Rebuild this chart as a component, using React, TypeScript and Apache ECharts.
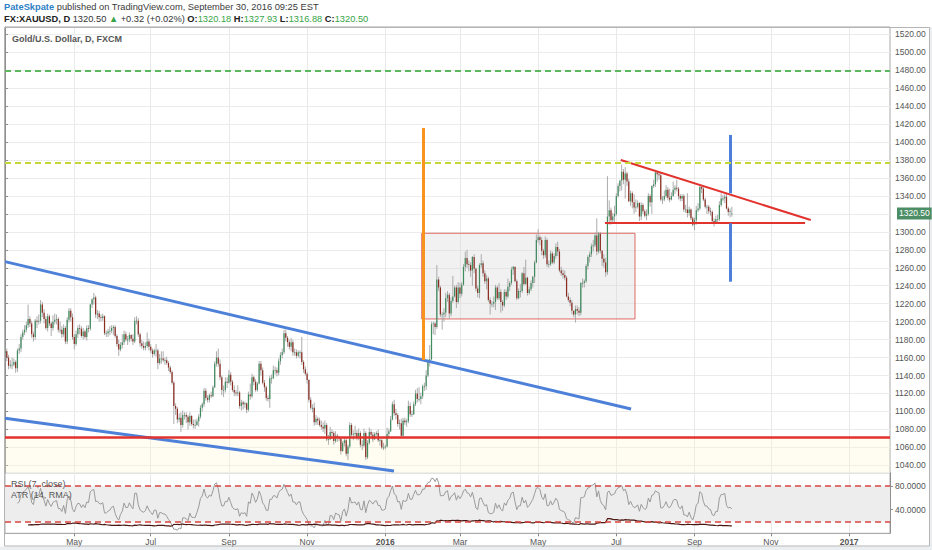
import React, { useEffect, useRef } from "react";
import * as echarts from "echarts";

// ---------- data ----------
const FIRST_DAY = [2015, 2, 9]; // 9 Mar 2015 (first visible bar)
const TOTAL_SLOTS = 499; // trading-day slots shown on the time axis (incl. empty future)

// [open, close, low, high] per trading day, 9 Mar 2015 - 30 Sep 2016 (one line = one week)
const CANDLES: number[][] = [
  [1165,1167,1162,1172],[1167,1160,1156,1170],[1160,1151,1147,1163],[1151,1152,1148,1157],[1152,1152,1147,1160],
  [1152,1155,1150,1159],[1155,1148,1143,1157],[1148,1168,1144,1170],[1168,1170,1164,1175],[1170,1183,1166,1186],
  [1183,1188,1180,1191],[1188,1191,1185,1196],[1191,1196,1188,1200],[1196,1203,1193,1219],[1203,1198,1194,1206],
  [1198,1186,1182,1201],[1186,1183,1178,1189],[1183,1201,1180,1203],[1201,1200,1193,1206],[1200,1201,1197,1208],
  [1201,1219,1198,1224],[1219,1210,1205,1222],[1210,1203,1198,1214],[1203,1193,1191,1206],[1193,1206,1189,1209],
  [1206,1198,1195,1208],[1198,1193,1184,1200],[1193,1200,1190,1207],[1200,1202,1197,1209],[1202,1203,1197,1208],
  [1203,1191,1188,1205],[1191,1191,1187,1200],[1191,1186,1182,1195],[1186,1193,1183,1197],[1193,1178,1175,1195],
  [1178,1202,1175,1205],[1202,1212,1199,1215],[1212,1205,1200,1215],[1205,1183,1180,1209],[1183,1175,1169,1186],
  [1175,1186,1173,1190],[1186,1193,1182,1196],[1193,1192,1186,1197],[1192,1184,1182,1195],[1184,1189,1180,1193],
  [1189,1183,1181,1191],[1183,1193,1179,1196],[1193,1192,1188,1196],[1192,1219,1190,1220],[1219,1225,1215,1226],
  [1225,1227,1219,1232],[1227,1208,1204,1229],[1208,1209,1203,1213],[1209,1205,1200,1212],[1205,1204,1200,1208],
  [1204,1206,1201,1209],[1206,1187,1185,1207],[1187,1187,1183,1190],[1187,1189,1183,1192],[1189,1190,1185,1195],
  [1190,1193,1187,1196],[1193,1194,1185,1196],[1194,1184,1182,1196],[1184,1175,1172,1186],[1175,1169,1162,1180],
  [1169,1174,1167,1177],[1174,1177,1170,1186],[1177,1186,1174,1190],[1186,1180,1178,1189],[1180,1180,1174,1184],
  [1180,1185,1177,1188],[1185,1181,1178,1186],[1181,1178,1174,1186],[1178,1201,1176,1205],[1201,1201,1197,1206],
  [1201,1186,1183,1204],[1186,1176,1172,1188],[1176,1173,1170,1180],[1173,1171,1168,1178],[1171,1173,1168,1177],
  [1173,1178,1171,1188],[1178,1172,1168,1181],[1172,1168,1165,1175],[1168,1164,1160,1170],[1164,1168,1162,1170],
  [1168,1168,1161,1175],[1168,1154,1147,1170],[1154,1159,1152,1164],[1159,1159,1153,1167],[1159,1157,1155,1167],
  [1157,1157,1152,1160],[1157,1154,1152,1161],[1154,1149,1145,1156],[1149,1144,1142,1151],[1144,1132,1130,1146],
  [1132,1106,1086,1134],[1106,1103,1096,1109],[1103,1091,1087,1105],[1091,1093,1088,1098],[1093,1085,1077,1099],
  [1085,1096,1082,1101],[1096,1096,1091,1099],[1096,1094,1087,1099],[1094,1088,1080,1096],[1088,1095,1084,1099],
  [1095,1086,1084,1096],[1086,1085,1081,1091],[1085,1085,1081,1091],[1085,1089,1084,1092],[1089,1094,1083,1097],
  [1094,1104,1092,1107],[1104,1108,1100,1110],[1108,1123,1105,1126],[1123,1115,1112,1126],[1115,1113,1110,1118],
  [1113,1118,1110,1120],[1118,1117,1115,1122],[1117,1127,1116,1129],[1127,1153,1126,1156],[1153,1160,1150,1167],
  [1160,1153,1150,1170],[1153,1138,1135,1158],[1138,1124,1118,1140],[1124,1124,1116,1129],[1124,1133,1121,1138],
  [1133,1132,1126,1138],[1132,1141,1131,1146],[1141,1133,1129,1144],[1133,1124,1122,1135],[1124,1121,1117,1129],
  [1121,1120,1117,1124],[1120,1121,1117,1129],[1121,1106,1103,1123],[1106,1110,1101,1113],[1110,1108,1102,1112],
  [1108,1109,1104,1111],[1109,1102,1098,1110],[1102,1119,1100,1122],[1119,1117,1113,1131],[1117,1138,1115,1142],
  [1138,1133,1129,1140],[1133,1124,1122,1136],[1124,1131,1122,1133],[1131,1153,1130,1156],[1153,1146,1140,1156],
  [1146,1132,1130,1149],[1132,1127,1122,1135],[1127,1115,1112,1129],[1115,1114,1111,1118],[1114,1137,1104,1140],
  [1137,1137,1131,1141],[1137,1146,1136,1151],[1146,1146,1141,1150],[1146,1143,1139,1149],[1143,1156,1140,1159],
  [1156,1163,1152,1166],[1163,1166,1159,1170],[1166,1187,1164,1191],[1187,1182,1178,1191],[1182,1177,1172,1184],
  [1177,1172,1169,1180],[1172,1177,1167,1182],[1177,1166,1162,1180],[1166,1166,1162,1170],[1166,1162,1159,1169],
  [1162,1166,1160,1168],[1166,1166,1159,1168],[1166,1155,1152,1183],[1155,1147,1143,1157],[1147,1142,1140,1150],
  [1142,1135,1131,1144],[1135,1113,1110,1136],[1113,1104,1102,1116],[1104,1104,1099,1108],[1104,1088,1084,1110],
  [1088,1092,1085,1096],[1092,1090,1085,1094],[1090,1085,1083,1093],[1085,1083,1080,1090],[1083,1081,1077,1088],
  [1081,1085,1075,1090],[1085,1069,1067,1087],[1069,1069,1063,1074],[1069,1077,1068,1083],[1077,1076,1071,1080],
  [1076,1067,1063,1078],[1067,1073,1065,1078],[1073,1071,1066,1075],[1071,1070,1067,1073],[1070,1056,1052,1071],
  [1056,1065,1055,1067],[1065,1068,1061,1071],[1068,1053,1050,1071],[1053,1061,1046,1063],[1061,1085,1059,1088],
  [1085,1074,1072,1087],[1074,1075,1068,1079],[1075,1076,1071,1084],[1076,1071,1068,1079],[1071,1076,1068,1081],
  [1076,1063,1060,1078],[1063,1062,1057,1068],[1062,1076,1060,1081],[1076,1049,1046,1078],[1049,1065,1047,1068],
  [1065,1077,1063,1082],[1077,1074,1071,1080],[1074,1069,1066,1077],[1069,1075,1068,1077],[1075,1076,1073,1078],
  [1076,1068,1066,1080],[1068,1068,1062,1072],[1068,1060,1058,1069],[1060,1060,1057,1065],[1060,1061,1058,1063],
  [1061,1075,1060,1082],[1075,1078,1071,1081],[1078,1091,1077,1095],[1091,1108,1090,1111],[1108,1098,1095,1113],
  [1098,1096,1091,1103],[1096,1086,1083,1098],[1086,1087,1080,1091],[1087,1073,1071,1092],[1073,1090,1072,1093],
  [1090,1088,1085,1093],[1088,1089,1083,1092],[1089,1106,1087,1112],[1106,1097,1094,1110],[1097,1097,1094,1101],
  [1097,1108,1096,1111],[1108,1120,1106,1124],[1120,1114,1110,1126],[1114,1114,1111,1127],[1114,1117,1108,1121],
  [1117,1128,1114,1130],[1128,1128,1123,1132],[1128,1140,1124,1146],[1140,1155,1138,1158],[1155,1158,1150,1174],
  [1158,1197,1157,1200],[1197,1198,1186,1200],[1198,1194,1185,1200],[1194,1247,1192,1263],[1247,1238,1234,1250],
  [1238,1208,1205,1240],[1208,1208,1191,1211],[1208,1210,1200,1215],[1210,1226,1205,1232],[1226,1230,1222,1234],
  [1230,1209,1203,1232],[1209,1223,1206,1227],[1223,1228,1221,1251],[1228,1238,1227,1240],[1238,1222,1215,1241],
  [1222,1238,1220,1244],[1238,1231,1226,1243],[1231,1241,1228,1244],[1241,1261,1240,1264],[1261,1271,1256,1278],
  [1271,1264,1260,1280],[1264,1263,1256,1268],[1263,1257,1250,1266],[1257,1272,1240,1273],[1272,1259,1254,1275],
  [1259,1237,1234,1260],[1237,1232,1227,1240],[1232,1263,1226,1265],[1263,1265,1260,1275],[1265,1254,1250,1268],
  [1254,1245,1242,1257],[1245,1248,1236,1252],[1248,1224,1222,1250],[1224,1220,1208,1227],[1220,1220,1216,1223],
  [1220,1222,1216,1228],[1222,1238,1213,1241],[1238,1226,1224,1240],[1226,1233,1224,1243],[1233,1222,1210,1236],
  [1222,1218,1212,1224],[1218,1233,1216,1236],[1233,1228,1224,1236],[1228,1239,1226,1248],[1239,1243,1234,1245],
  [1243,1258,1241,1261],[1258,1261,1252,1262],[1261,1245,1244,1261],[1245,1226,1224,1247],[1226,1234,1225,1237],
  [1234,1234,1227,1242],[1234,1254,1232,1255],[1254,1242,1240,1261],[1242,1249,1241,1269],[1249,1232,1229,1250],
  [1232,1236,1230,1239],[1236,1243,1234,1246],[1243,1250,1238,1251],[1250,1266,1243,1268],[1266,1291,1265,1297],
  [1291,1294,1288,1303],[1294,1291,1285,1296],[1291,1279,1274,1294],[1279,1274,1270,1281],[1274,1291,1271,1295],
  [1291,1264,1261,1293],[1264,1264,1260,1268],[1264,1276,1262,1279],[1276,1266,1264,1278],[1266,1273,1264,1276],
  [1273,1283,1270,1287],[1283,1278,1273,1289],[1278,1257,1255,1281],[1257,1254,1251,1261],[1254,1252,1248,1258],
  [1252,1249,1246,1257],[1249,1228,1227,1251],[1228,1224,1222,1232],[1224,1221,1217,1227],[1221,1212,1208,1224],
  [1212,1208,1205,1212],[1208,1214,1199,1218],[1214,1212,1208,1218],[1212,1210,1206,1216],[1210,1243,1207,1244],
  [1243,1243,1238,1248],[1243,1245,1238,1247],[1245,1262,1243,1264],[1262,1272,1258,1274],[1272,1275,1266,1278],
  [1275,1284,1272,1287],[1284,1285,1278,1291],[1285,1296,1283,1299],[1296,1278,1274,1315],[1278,1298,1276,1300],
  [1298,1279,1276,1300],[1279,1270,1262,1280],[1270,1266,1260,1275],[1266,1255,1250,1271],[1255,1317,1252,1362],
  [1317,1324,1308,1335],[1324,1313,1308,1327],[1313,1317,1309,1321],[1317,1320,1310,1329],[1320,1340,1318,1343],
  [1340,1351,1338,1354],[1351,1357,1345,1358],[1357,1367,1346,1375],[1367,1358,1353,1370],[1358,1365,1337,1372],
  [1365,1356,1351,1367],[1356,1334,1333,1359],[1334,1343,1329,1346],[1343,1333,1326,1345],[1333,1327,1320,1342],
  [1327,1328,1322,1336],[1328,1332,1326,1335],[1332,1317,1312,1333],[1317,1330,1313,1333],[1330,1323,1320,1332],
  [1323,1318,1316,1325],[1318,1320,1313,1325],[1320,1340,1318,1343],[1340,1333,1328,1342],[1333,1351,1320,1352],
  [1351,1353,1349,1358],[1353,1366,1350,1367],[1366,1364,1356,1367],[1364,1363,1358,1366],[1363,1336,1334,1366],
  [1336,1336,1331,1340],[1336,1340,1334,1346],[1340,1347,1338,1352],[1347,1338,1335,1350],[1338,1336,1333,1348],
  [1336,1340,1335,1344],[1340,1347,1339,1356],[1347,1349,1342,1352],[1349,1348,1345,1358],[1348,1340,1336,1350],
  [1340,1337,1334,1342],[1337,1340,1334,1342],[1340,1325,1322,1342],[1325,1325,1321,1330],[1325,1321,1316,1343],
  [1321,1325,1318,1328],[1325,1315,1313,1326],[1315,1308,1306,1317],[1308,1313,1302,1316],[1313,1324,1308,1329],
  [1324,1326,1322,1332],[1326,1350,1324,1352],[1350,1348,1343,1352],[1348,1336,1334,1350],[1336,1328,1326,1338],
  [1328,1328,1320,1330],[1328,1323,1320,1330],[1323,1322,1318,1327],[1322,1312,1310,1324],[1312,1310,1306,1315],
  [1310,1314,1310,1318],[1314,1314,1311,1319],[1314,1330,1312,1334],[1330,1337,1328,1343],[1337,1337,1334,1341],
  [1337,1339,1332,1342],[1339,1326,1325,1342],[1326,1322,1318,1328],[1322,1323,1316,1326],[1320.18,1320.5,1316.88,1327.93],
];

// time-axis labels (first trading day of every second month)
const TICK_DATES = ["2015-05-01","2015-07-01","2015-09-01","2015-11-02","2016-01-01","2016-03-01","2016-05-02","2016-07-01","2016-09-01","2016-11-01","2017-01-02"];
const TICK_LABELS = ["May","Jul","Sep","Nov","2016","Mar","May","Jul","Sep","Nov","2017"];

// drawings, in [bar index, price]
const BLUE_TRENDS = [[0, 1266.8, 352.3, 1102.7], [0, 1092.4, 218.9, 1033.7]];
const RED_TRIANGLE = [[346.5, 1380.0, 453.4, 1313.2], [337.6, 1310.2, 450.2, 1310.2]];
const ORANGE_VERTICAL = [[235.3, 1157.3, 1415.7]];
const BLUE_VERTICAL = [[408.3, 1342.9, 1407.9], [408.3, 1244.5, 1309.5]];
const RANGE_BOX = [234.5, 1203.0, 354.5, 1298.4];
const LEVEL_GREEN = 1479;
const LEVEL_YELLOW = 1377;
const LEVEL_RED = 1070.8;
const LAST_PRICE = 1320.5;
const HIDDEN_PRICE_LABEL = 1320; // covered by the last-price tag

const PRICE_MIN = 1031.8;
const PRICE_MAX = 1528.1;
const RSI_LEVELS = [20, 80];

// ---------- helpers ----------
const DATES: string[] = (() => {
  const out: string[] = [];
  let t = Date.UTC(FIRST_DAY[0], FIRST_DAY[1], FIRST_DAY[2]);
  while (out.length < TOTAL_SLOTS) {
    const d = new Date(t);
    const wd = d.getUTCDay();
    if (wd !== 0 && wd !== 6) out.push(d.toISOString().slice(0, 10));
    t += 86400000;
  }
  return out;
})();

function computeRSI(closes: number[], n: number): (number | null)[] {
  const out: (number | null)[] = closes.map(() => null);
  let ag = 0, al = 0;
  for (let i = 1; i < closes.length; i++) {
    const ch = closes[i] - closes[i - 1];
    const g = Math.max(ch, 0), l = Math.max(-ch, 0);
    if (i <= n) {
      ag += g / n; al += l / n;
    } else {
      ag = (ag * (n - 1) + g) / n; al = (al * (n - 1) + l) / n;
    }
    if (i >= n) out[i] = al === 0 ? 100 : 100 - 100 / (1 + ag / al);
  }
  return out;
}

function computeATR(rows: number[][], n: number): (number | null)[] {
  const out: (number | null)[] = rows.map(() => null);
  let atr = 0;
  for (let i = 0; i < rows.length; i++) {
    const [, c, l, h] = rows[i];
    const pc = i > 0 ? rows[i - 1][1] : c;
    const tr = i > 0 ? Math.max(h - l, Math.abs(h - pc), Math.abs(l - pc)) : h - l;
    if (i < n) {
      atr += tr / n;
      if (i === n - 1) out[i] = atr;
    } else {
      atr = (atr * (n - 1) + tr) / n;
      out[i] = atr;
    }
  }
  return out;
}

const FONT = "'Liberation Sans', Arial, sans-serif";

export default function App() {
  const ref = useRef<HTMLDivElement>(null);

  useEffect(() => {
    if (!ref.current) return;
    const chart = echarts.init(ref.current, undefined, { renderer: "svg" });

    const closes = CANDLES.map((r) => r[1]);
    const rsi = computeRSI(closes, 7);
    const atr = computeATR(CANDLES, 14);
    const tickSet = new Set(TICK_DATES);
    const labelOf: Record<string, string> = {};
    TICK_DATES.forEach((d, k) => (labelOf[d] = TICK_LABELS[k]));
    const isTick = (_: number, v: string) => tickSet.has(v);

    const UP = "#3f8c5f";
    const DOWN = "#8c2d22";
    const WICK = "#a3a3a3";
    const BLUE = "#4d80d9";
    const RED = "#e2322d";

    const trendLines: any[] = [];
    BLUE_TRENDS.forEach(([x1, y1, x2, y2]) =>
      trendLines.push([{ coord: [x1, y1], lineStyle: { color: BLUE, width: 3, type: "solid" } }, { coord: [x2, y2] }])
    );
    RED_TRIANGLE.forEach(([x1, y1, x2, y2]) =>
      trendLines.push([{ coord: [x1, y1], lineStyle: { color: RED, width: 2, type: "solid" } }, { coord: [x2, y2] }])
    );
    ORANGE_VERTICAL.forEach(([x, y1, y2]) =>
      trendLines.push([{ coord: [x, y1], lineStyle: { color: "#f7941d", width: 3, type: "solid" } }, { coord: [x, y2] }])
    );
    BLUE_VERTICAL.forEach(([x, y1, y2]) =>
      trendLines.push([{ coord: [x, y1], lineStyle: { color: BLUE, width: 3, type: "solid" } }, { coord: [x, y2] }])
    );
    trendLines.push({ yAxis: LEVEL_GREEN, lineStyle: { color: "#5cb85c", width: 2, type: [6, 4] } });
    trendLines.push({ yAxis: LEVEL_YELLOW, lineStyle: { color: "#c5d636", width: 2, type: [6, 4] } });
    trendLines.push({ yAxis: LEVEL_RED, lineStyle: { color: RED, width: 2.5, type: "solid" } });

    const baseGraphic: any[] = [
      { type: "rect", silent: true, z: 0, shape: { x: 0, y: 546.5, width: 932, height: 4 }, style: { fill: "#eceff1" } },
      { type: "rect", silent: true, z: 0, shape: { x: 929.5, y: 27, width: 3, height: 524 }, style: { fill: "#eceff1" } },
      { type: "rect", silent: true, z: 100, shape: { x: 4.5, y: 27.5, width: 925, height: 518.5 }, style: { fill: "none", stroke: "#b4b4b4", lineWidth: 1 } },
      {
        type: "text", silent: true, z: 100, x: 4, y: 7,
        style: {
          text: "{u|PateSkpate} published on TradingView.com, September 30, 2016 09:25 EST",
          fill: "#3a3a3a", fontSize: 9.3, fontFamily: FONT, verticalAlign: "middle",
          rich: { u: { fill: "#2d7fc6", fontWeight: "bold", fontSize: 9.3, fontFamily: FONT } },
        },
      },
      {
        type: "text", silent: true, z: 100, x: 4, y: 18.5,
        style: {
          text: "{b|FX:XAUUSD, D} 1320.50 {g|▲} +0.32 (+0.02%) {b|O:}{g|1320.18} {b|H:}{g|1327.93} {b|L:}{g|1316.88} {b|C:}{g|1320.50}",
          fill: "#333", fontSize: 9.3, fontFamily: FONT, verticalAlign: "middle",
          rich: {
            b: { fill: "#222", fontWeight: "bold", fontSize: 9.3, fontFamily: FONT },
            g: { fill: "#36a446", fontSize: 9.3, fontFamily: FONT },
          },
        },
      },
      {
        type: "text", silent: true, z: 100, x: 12, y: 38.5,
        style: { text: "Gold/U.S. Dollar, D, FXCM", fill: "#555", fontSize: 9, fontWeight: "bold", fontFamily: FONT, verticalAlign: "middle" },
      },
      {
        type: "text", silent: true, z: 100, x: 11, y: 484,
        style: { text: "RSI (7, close)", fill: "#555", fontSize: 9, fontFamily: FONT, verticalAlign: "middle" },
      },
      {
        type: "text", silent: true, z: 100, x: 11, y: 494.5,
        style: { text: "ATR (14, RMA)", fill: "#555", fontSize: 9, fontFamily: FONT, verticalAlign: "middle" },
      },
    ];

    const option: any = {
      animation: false,
      backgroundColor: "#ffffff",
      textStyle: { fontFamily: FONT },
      grid: [
        { left: 5, top: 27, width: 885, height: 445.7, show: true, borderColor: "#a9a9a9", borderWidth: 1, backgroundColor: "transparent" },
        { left: 5, top: 472.7, width: 885, height: 60.6, show: true, borderColor: "#a9a9a9", borderWidth: 1, backgroundColor: "transparent" },
      ],
      xAxis: [
        {
          type: "category", gridIndex: 0, data: DATES, boundaryGap: false,
          axisLine: { show: false }, axisTick: { show: false }, axisLabel: { show: false },
          splitLine: { show: true, interval: isTick, lineStyle: { color: "#e9e9e9", width: 1 } },
        },
        {
          type: "category", gridIndex: 1, data: DATES, boundaryGap: false,
          axisLine: { show: true, lineStyle: { color: "#a9a9a9" } },
          axisTick: { show: true, interval: isTick, length: 3, lineStyle: { color: "#888" } },
          axisLabel: {
            show: true, interval: isTick, margin: 4, fontSize: 8.5, color: "#555",
            formatter: (v: string) => {
              const t = labelOf[v] || "";
              return /^\d{4}$/.test(t) ? "{b|" + t + "}" : t;
            },
            rich: { b: { fontWeight: "bold", fontSize: 8.5, color: "#555", fontFamily: FONT } },
          },
          splitLine: { show: true, interval: isTick, lineStyle: { color: "#e9e9e9", width: 1 } },
        },
        { type: "value", gridIndex: 0, min: 0, max: TOTAL_SLOTS - 1, show: false, splitLine: { show: false } },
      ],
      yAxis: [
        {
          type: "value", gridIndex: 0, position: "right", min: PRICE_MIN, max: PRICE_MAX, splitNumber: 25, scale: true,
          axisLine: { show: true, lineStyle: { color: "#8f8f8f" } },
          axisTick: { show: true, length: 3, lineStyle: { color: "#8f8f8f" } },
          axisLabel: {
            showMinLabel: false, showMaxLabel: false, fontSize: 8.5, color: "#555", margin: 5,
            formatter: (v: number) => (Math.abs(v - HIDDEN_PRICE_LABEL) < 0.01 ? "" : v.toFixed(2)),
          },
          splitLine: { show: true, lineStyle: { color: "#ececec", width: 1 } },
        },
        {
          type: "value", gridIndex: 1, position: "right", min: 0, max: 102.7, interval: 40,
          axisLine: { show: true, lineStyle: { color: "#8f8f8f" } },
          axisTick: { show: true, length: 3, lineStyle: { color: "#8f8f8f" } },
          axisLabel: {
            showMinLabel: false, showMaxLabel: false, fontSize: 8.5, color: "#555", margin: 5,
            formatter: (v: number) => (v === 40 || v === 80 ? v.toFixed(4) : ""),
          },
          splitLine: { show: false },
        },
      ],
      series: [
        {
          type: "line", name: "areas", xAxisIndex: 2, yAxisIndex: 0, data: [], z: 1, silent: true,
          markArea: {
            silent: true,
            data: [
              [{ yAxis: PRICE_MIN, itemStyle: { color: "rgba(255,246,210,0.28)" } }, { yAxis: LEVEL_RED }],
              [
                { coord: [RANGE_BOX[0], RANGE_BOX[1]], itemStyle: { color: "rgba(210,210,210,0.32)", borderColor: "#e06a63", borderWidth: 1 } },
                { coord: [RANGE_BOX[2], RANGE_BOX[3]] },
              ],
            ],
          },
        },
        {
          type: "custom", name: "XAUUSD", xAxisIndex: 0, yAxisIndex: 0, z: 3, clip: true, silent: true,
          data: CANDLES.map((r, i) => [i, r[0], r[1], r[2], r[3]]),
          encode: { x: 0, y: [1, 2, 3, 4] },
          renderItem: (_params: any, api: any) => {
            const i = api.value(0);
            const o = api.value(1), c = api.value(2), l = api.value(3), h = api.value(4);
            const pO = api.coord([i, o]);
            const pC = api.coord([i, c]);
            const pL = api.coord([i, l]);
            const pH = api.coord([i, h]);
            const w = api.size([1, 0])[0] * 0.68;
            const top = Math.min(pO[1], pC[1]);
            const hh = Math.max(Math.abs(pO[1] - pC[1]), 0.8);
            return {
              type: "group",
              children: [
                { type: "line", shape: { x1: pH[0], y1: pH[1], x2: pL[0], y2: pL[1] }, style: { stroke: WICK, lineWidth: 0.9 } },
                { type: "rect", shape: { x: pO[0] - w / 2, y: top, width: w, height: hh }, style: { fill: c >= o ? UP : DOWN } },
              ],
            };
          },
        },
        {
          type: "line", name: "drawings", xAxisIndex: 2, yAxisIndex: 0, data: [], z: 5, silent: true,
          markLine: { silent: true, symbol: ["none", "none"], label: { show: false }, data: trendLines },
        },
        {
          type: "line", name: "RSI (7, close)", xAxisIndex: 1, yAxisIndex: 1, data: rsi, showSymbol: false, silent: true, z: 3,
          lineStyle: { color: "#9a9a9a", width: 1 },
          markArea: { silent: true, itemStyle: { color: "#ededed" }, data: [[{ yAxis: RSI_LEVELS[0] }, { yAxis: RSI_LEVELS[1] }]] },
          markLine: {
            silent: true, symbol: ["none", "none"], label: { show: false },
            lineStyle: { color: "#d9443f", width: 1.6, type: [6, 4] },
            data: RSI_LEVELS.map((v) => ({ yAxis: v })),
          },
        },
        {
          type: "line", name: "ATR (14, RMA)", xAxisIndex: 1, yAxisIndex: 1, data: atr, showSymbol: false, silent: true, z: 4,
          lineStyle: { color: "#4a1612", width: 1.2 },
        },
      ],
      graphic: baseGraphic,
    };

    chart.setOption(option);

    // last-price tag on the price scale, placed through the axis scale
    const tagY = chart.convertToPixel({ yAxisIndex: 0 }, LAST_PRICE) as number;
    chart.setOption({
      graphic: [
        ...baseGraphic,
        {
          type: "text", silent: true, z: 120, x: 897, y: tagY,
          style: {
            text: LAST_PRICE.toFixed(2), fill: "#ffffff", backgroundColor: "#4b8e66",
            padding: [2, 2, 1, 2], fontSize: 8.5, fontFamily: FONT, verticalAlign: "middle",
          },
        },
      ],
    });

    return () => chart.dispose();
  }, []);

  return (
    <div
      ref={ref}
      style={{ position: "fixed", left: 0, top: 0, width: 932, height: 550, background: "#ffffff" }}
    />
  );
}
